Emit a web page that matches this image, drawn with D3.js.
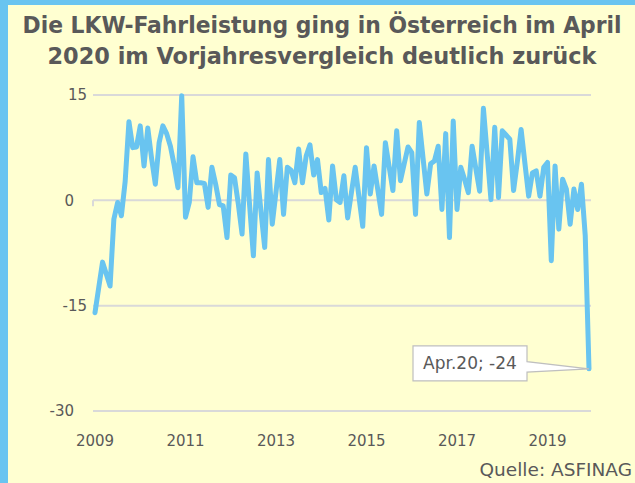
<!DOCTYPE html>
<html>
<head>
<meta charset="utf-8">
<script src="https://cdn.jsdelivr.net/npm/d3@7"></script>
<style>
  html, body { margin: 0; padding: 0; background: #ffffd1; }
  svg { display: block; }
</style>
</head>
<body>
<svg id="chart"></svg>
<script>
// monthly change vs. previous year, %
const values = [
  -16, -12.4, -8.8, -10.5, -12.2, -2.7, -0.3, -2.2, 2.7, 11.2,
  7.5, 7.6, 10.6, 4.9, 10.3, 6, 2.3, 8.2, 10.6, 9.5,
  7.7, 5, 1.8, 14.9, -2.4, -0.3, 6.2, 2.5, 2.5, 2.4,
  -1, 4.7, 2.3, -0.6, -0.8, -5.3, 3.6, 3.2, -0.5, -4.8,
  6.6, -0.7, -7.9, 3.9, -1.5, -6.7, 5.8, -3.4, 1.2, 5.8,
  -2, 4.7, 4.3, 2.5, 7.3, 2.5, 6.3, 7.9, 3.6, 5.8,
  1.1, 1.7, -2.8, 4.9, 0.1, -0.3, 3.5, -2.5, 1.1, 4.7,
  0.5, -3.7, 7.5, 0.9, 4.9, 1.5, -2, 8.2, 4.8, 1.4,
  9.9, 2.8, 5.2, 7.6, 6.8, -2, 11.1, 6, 0.9, 5.2,
  5.6, 7.7, -1.3, 9.5, -5.3, 11.3, -1.3, 4.7, 3, 1.1,
  7.7, 4.5, 1.3, 13.1, 6.6, 0.1, 10.4, 0.4, 9.9, 9.3,
  8.7, 1.4, 5.5, 10.1, 5.3, 0.6, 3.9, 4.2, 0.6, 4.7,
  5.4, -8.6, 4.9, -4.1, 3, 1.6, -3.4, 1.6, -1.3, 2.3,
  -5, -24
];
const yearLabels = ["2009", "2011", "2013", "2015", "2017", "2019"];
const yearIndex = [0, 24, 48, 72, 96, 120];
const yTicks = [15, 0, -15, -30];
const titleLines = [
  "Die LKW-Fahrleistung ging in Österreich im April",
  "2020 im Vorjahresvergleich deutlich zurück"
];
const calloutText = "Apr.20; -24";
const sourceText = "Quelle: ASFINAG";

const width = 635, height = 483;
const font = "'DejaVu Sans', sans-serif";
const titleFont = "'DejaVu Sans Condensed', 'DejaVu Sans', sans-serif";
const textColor = "#595959";
const blue = "#69c4f0";

const svg = d3.select("#chart").attr("width", width).attr("height", height);

svg.append("rect").attr("width", width).attr("height", height).attr("fill", "#ffffd1");
// blue frame on left and top
svg.append("rect").attr("x", 0).attr("y", 0).attr("width", 8).attr("height", height).attr("fill", blue);
svg.append("rect").attr("x", 0).attr("y", 0).attr("width", width).attr("height", 5).attr("fill", blue);

// title
const titleWidths = [599, 549];
svg.append("g")
  .selectAll("text")
  .data(titleLines)
  .join("text")
  .attr("x", 322)
  .attr("y", (d, i) => 33 + i * 31)
  .attr("text-anchor", "middle")
  .attr("textLength", (d, i) => titleWidths[i])
  .attr("lengthAdjust", "spacingAndGlyphs")
  .attr("fill", textColor)
  .style("font", `bold 23px ${titleFont}`)
  .text(d => d);

const x = d3.scaleLinear().domain([0, values.length - 1]).range([95, 589]);
const y = d3.scaleLinear().domain([-30, 15]).range([411, 95]);

// gridlines
svg.append("g")
  .selectAll("line")
  .data(yTicks)
  .join("line")
  .attr("x1", 93)
  .attr("x2", 591)
  .attr("y1", d => y(d))
  .attr("y2", d => y(d))
  .attr("stroke", "#d9d9d9")
  .attr("stroke-width", 2);

// little axis tick at the left of zero line
svg.append("line")
  .attr("x1", 93).attr("x2", 93)
  .attr("y1", y(0)).attr("y2", y(0) + 6)
  .attr("stroke", "#d9d9d9").attr("stroke-width", 2);

// y labels (the original has them staggered)
svg.append("g")
  .selectAll("text")
  .data(yTicks)
  .join("text")
  .attr("x", (d, i) => i % 2 ? 74 : 87)
  .attr("y", d => y(d))
  .attr("dy", "0.35em")
  .attr("text-anchor", "end")
  .attr("fill", textColor)
  .style("font", `15px ${font}`)
  .text(d => d);

// x labels
svg.append("g")
  .selectAll("text")
  .data(yearLabels)
  .join("text")
  .attr("x", (d, i) => x(yearIndex[i]))
  .attr("y", 446)
  .attr("text-anchor", "middle")
  .attr("fill", textColor)
  .style("font", `15px ${font}`)
  .text(d => d);

// the line
const line = d3.line()
  .x((d, i) => x(i))
  .y(d => y(d));

svg.append("path")
  .datum(values)
  .attr("d", line)
  .attr("fill", "none")
  .attr("stroke", blue)
  .attr("stroke-width", 5)
  .attr("stroke-linejoin", "round")
  .attr("stroke-linecap", "round");

// callout for last value
const last = values.length - 1;
const tipX = x(last), tipY = y(values[last]);
const bx = tipX - 176, by = tipY - 23, bw = 114, bh = 35;
const callout = svg.append("g");
callout.append("path")
  .attr("d", `M${bx},${by} H${bx + bw} V${by + bh * 0.45} L${tipX},${tipY} L${bx + bw},${by + bh * 0.75} V${by + bh} H${bx} Z`)
  .attr("fill", "#fff")
  .attr("stroke", "#bfbfbf")
  .attr("stroke-width", 1.2);
callout.append("text")
  .attr("x", bx + bw / 2)
  .attr("y", by + bh / 2)
  .attr("dy", "0.35em")
  .attr("text-anchor", "middle")
  .attr("fill", textColor)
  .style("font", `17px ${font}`)
  .text(calloutText);

// source
svg.append("text")
  .attr("x", 632)
  .attr("y", 476)
  .attr("text-anchor", "end")
  .attr("fill", textColor)
  .style("font", `18.5px ${font}`)
  .text(sourceText);
</script>
</body>
</html>
